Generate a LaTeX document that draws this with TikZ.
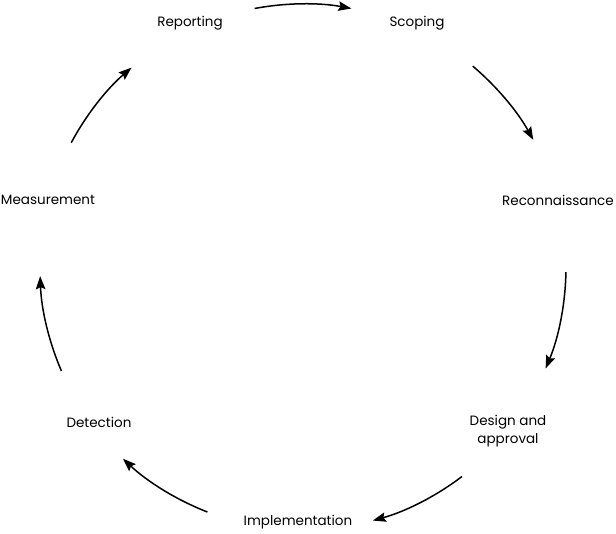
\documentclass[tikz,border=0pt]{standalone}
\usepackage{fontspec}
\setmainfont{Poppins}
\usetikzlibrary{arrows.meta,calc}
\begin{document}
\begin{tikzpicture}[x=1pt,y=-1pt,
  lbl/.style={font=\fontsize{13.5}{18}\selectfont, align=center, inner sep=0pt},
  arr/.style={line width=1.5pt, -{Stealth[length=13pt,width=9.5pt,inset=2pt]}}]
\useasboundingbox (0,0) rectangle (616,533);
\coordinate (c) at (303,267);
\node[lbl] (rep) at (190,23) {Reporting};
\node[lbl] (sco) at (417,23) {Scoping};
\node[lbl] (rec) at (558,200) {Reconnaissance};
\node[lbl] (des) at (508,431) {Design and\\approval};
\node[lbl] (imp) at (298,522) {Implementation};
\node[lbl] (det) at (99,422) {Detection};
\node[lbl] (mea) at (48,200) {Measurement};
\def\R{263}
\foreach \a/\b in {100.6/79.4, 49.8/28.9, -1.1/-22.7, -52.8/-74.6, -111.3/-133.2, 203.3/182, 151.8/130.7}{
  \draw[arr] ($(c)+({\R*cos(\a)},{-\R*sin(\a)})$) arc[start angle=-\a, end angle=-\b, radius=\R];
}
\end{tikzpicture}
\end{document}
